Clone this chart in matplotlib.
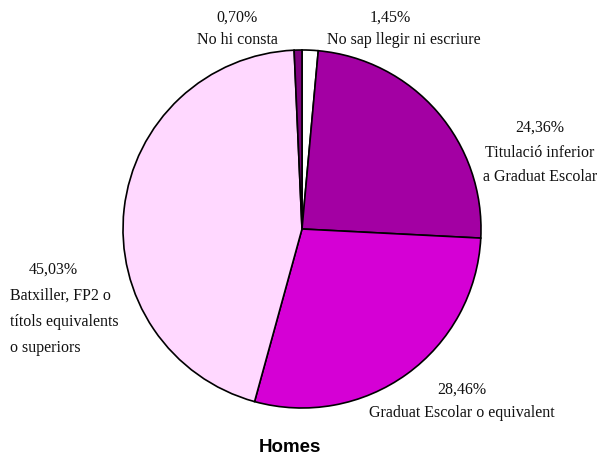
import matplotlib
matplotlib.use("Agg")
import matplotlib.pyplot as plt

# data, clockwise from the top
categories = ["No sap llegir ni escriure",
              "Titulació inferior\na Graduat Escolar",
              "Graduat Escolar o equivalent",
              "Batxiller, FP2 o\ntítols equivalents\no superiors",
              "No hi consta"]
values = [1.45, 24.36, 28.46, 45.03, 0.70]
colors = ["#ffffff", "#a300a3", "#d500d5", "#ffd8ff", "#800080"]
explode = [0.02, 0, 0, 0, 0]

W, H = 600, 457
fig = plt.figure(figsize=(W / 100, H / 100), dpi=100)
ax = fig.add_axes([0, 0, 1, 1])

ax.pie(values, colors=colors, explode=explode, startangle=90, counterclock=False,
       center=(302, H - 229), radius=179,
       wedgeprops=dict(edgecolor="black", linewidth=1.2))
ax.set_xlim(0, W)
ax.set_ylim(0, H)
ax.set_aspect("equal")
ax.axis("off")

serif = "Liberation Serif"
fs = 11.5


def pct(v):
    return format(v, ".2f").replace(".", ",") + "%"


def label(x, y, s, ha="center", step=24):
    # y is the first line's centre in image pixels from the top
    for i, line in enumerate(s.split("\n")):
        ax.text(x, H - (y + i * step), line, ha=ha, va="center", family=serif,
                fontsize=fs, color="#111111")


# No hi consta
label(237, 18, pct(values[4]))
label(237, 40, categories[4])
# No sap llegir ni escriure
label(390, 18, pct(values[0]))
label(404, 40, categories[0])
# Titulació inferior
label(540, 128, pct(values[1]))
label(540, 153, categories[1])
# Graduat Escolar
label(462, 390, pct(values[2]))
label(462, 413, categories[2])
# Batxiller
label(53, 270, pct(values[3]))
label(10, 296, categories[3], ha="left", step=26)

ax.text(290, H - 447, "Homes", ha="center", va="center",
        family="Liberation Sans", fontsize=13.5, fontweight="bold")

fig.savefig("out.png", dpi=100)
plt.close(fig)
